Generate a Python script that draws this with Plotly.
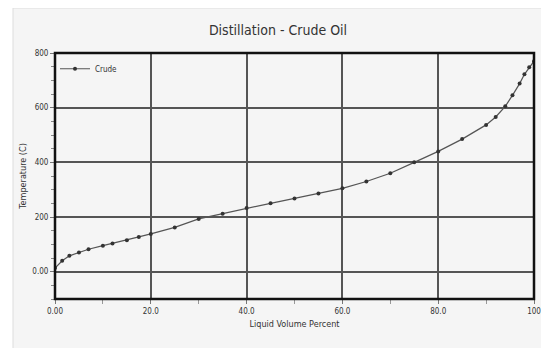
import plotly.graph_objects as go

# Data
liquid_volume_pct = [0, 1.5, 3, 5, 7, 10, 12, 15, 17.5, 20, 25, 30, 35, 40, 45, 50,
                     55, 60, 65, 70, 75, 80, 85, 90, 92, 94, 95.5, 97, 98, 99, 100]
temperature_c = [13, 40, 58, 70, 82, 95, 103, 115, 127, 138, 162, 193, 212, 233, 250, 268,
                 286, 305, 330, 360, 400, 440, 485, 537, 566, 605, 645, 688, 722, 748, 770]
series_name = "Crude"
x_tick_vals = [0, 20, 40, 60, 80, 100]
x_tick_text = ["0.00", "20.0", "40.0", "60.0", "80.0", "100"]
y_tick_vals = [0, 200, 400, 600, 800]
y_tick_text = ["0.00", "200", "400", "600", "800"]

# The page body has an 8px margin, so the figure sits at (8, 8) in the window.
OFF = 8
WIN_W, WIN_H = 549, 356
W, H = WIN_W - 2 * OFF, WIN_H - 2 * OFF
# plot area in window pixels: x 55..534, y 53..299
L = 55 - OFF
T = 53 - OFF
R = W - (534 - OFF)
B = H - (299 - OFF)
pw, ph = W - L - R, H - T - B

def px_x(p):  # window pixel -> paper x
    return (p - OFF - L) / pw

def px_y(p):  # window pixel -> paper y
    return (H - B - (p - OFF)) / ph

fig = go.Figure()
fig.add_trace(go.Scatter(
    x=liquid_volume_pct, y=temperature_c, name=series_name,
    mode="lines+markers",
    line=dict(color="#555555", width=1.2),
    marker=dict(color="#333333", size=4),
))

fig.update_layout(
    width=W, height=H,
    margin=dict(l=L, r=R, t=T, b=B, autoexpand=False),
    paper_bgcolor="white",
    plot_bgcolor="#fcfcfc",
    font=dict(family="DejaVu Sans Condensed, Liberation Sans Narrow, Arial", color="#333333"),
    title=dict(text="Distillation - Crude Oil", x=(278 - OFF) / W, xref="container", xanchor="center",
               y=1 - (30 - OFF) / H, yref="container", yanchor="middle",
               font=dict(size=14, family="DejaVu Sans Condensed, Liberation Sans Narrow", color="#333333")),
    showlegend=True,
    legend=dict(x=0.0, y=0.995, xanchor="left", yanchor="top", bgcolor="rgba(0,0,0,0)",
                font=dict(size=8), itemwidth=30, tracegroupgap=0),
    shapes=[
        dict(type="rect", xref="paper", yref="paper",
             x0=px_x(13), x1=px_x(WIN_W + 5), y0=px_y(WIN_H + 5), y1=px_y(8),
             fillcolor="#f5f5f5", line=dict(color="#dddddd", width=1), layer="below"),
        dict(type="rect", xref="paper", yref="paper", x0=0, x1=1, y0=0, y1=1,
             line=dict(color="#111111", width=2.5)),
    ],
)

fig.update_xaxes(
    range=[0, 100], tickvals=x_tick_vals, ticktext=x_tick_text, automargin=False,
    ticklabeloverflow="allow",
    showgrid=True, gridcolor="#555555", gridwidth=1.5, zeroline=False,
    ticks="outside", ticklen=4, tickcolor="#777777",
    minor=dict(tickvals=[10, 30, 50, 70, 90], ticks="outside", ticklen=4, tickcolor="#999999", showgrid=False),
    tickfont=dict(size=8), showline=False,
    title=dict(text="Liquid Volume Percent", font=dict(size=9), standoff=6),
)
fig.update_yaxes(
    range=[-100, 800], tickvals=y_tick_vals, ticktext=y_tick_text, automargin=False,
    ticklabeloverflow="allow",
    showgrid=True, gridcolor="#555555", gridwidth=1.5, zeroline=False,
    ticks="outside", ticklen=4, tickcolor="#777777",
    minor=dict(dtick=50, ticks="outside", ticklen=3, tickcolor="#888888", showgrid=False),
    tickfont=dict(size=8), showline=False,
    title=dict(text="Temperature (C)", font=dict(size=9), standoff=4),
)

fig.write_html("out.html")
